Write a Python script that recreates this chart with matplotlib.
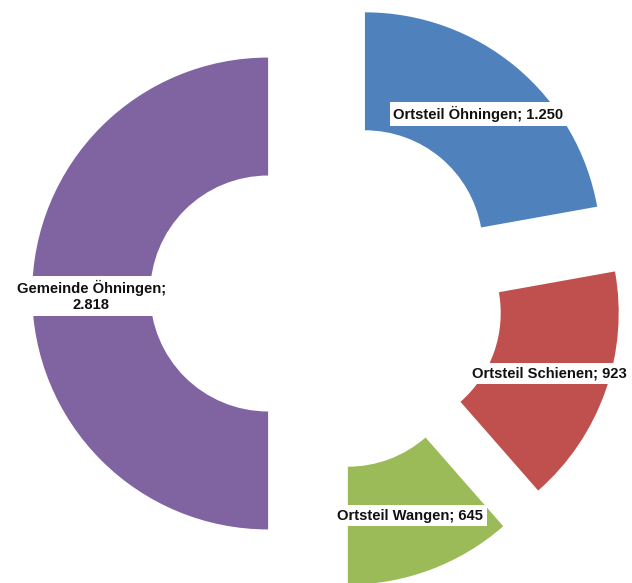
import matplotlib
matplotlib.use('Agg')
import matplotlib.pyplot as plt

# Einwohner je Ortsteil
names = ['Ortsteil Öhningen', 'Ortsteil Schienen', 'Ortsteil Wangen', 'Gemeinde Öhningen']
values = [1250, 923, 645, 2818]
value_labels = ['1.250', '923', '645', '2.818']
colors = ['#4F81BD', '#C0504D', '#9BBB59', '#8064A2']

labels = [f"{n}; {v}" for n, v in zip(names, value_labels)]
labels[3] = f"{names[3]};\n{value_labels[3]}"

fig = plt.figure(figsize=(6.32, 5.83), dpi=100)
ax = fig.add_axes([0, 0, 1, 1])

wedges, texts = ax.pie(values, labels=labels, colors=colors,
                       startangle=90, counterclock=False,
                       explode=[0.25] * 4, labeldistance=0.75,
                       wedgeprops=dict(width=0.5, edgecolor='none'))

for t in texts:
    t.set_ha('center')
    t.set_va('center_baseline')
    t.set_fontsize(10.6)
    t.set_fontweight('bold')
    t.set_family('Liberation Sans')
    t.set_color('#111111')
    t.set_multialignment('center')
    t.set_linespacing(1.2)
    t.set_bbox(dict(facecolor='white', edgecolor='none', pad=2.5))

ax.set_aspect('equal')
ax.set_xlim(-1.386, 1.292)
ax.set_ylim(-1.227, 1.244)
ax.axis('off')

fig.savefig('out.png', dpi=100)
